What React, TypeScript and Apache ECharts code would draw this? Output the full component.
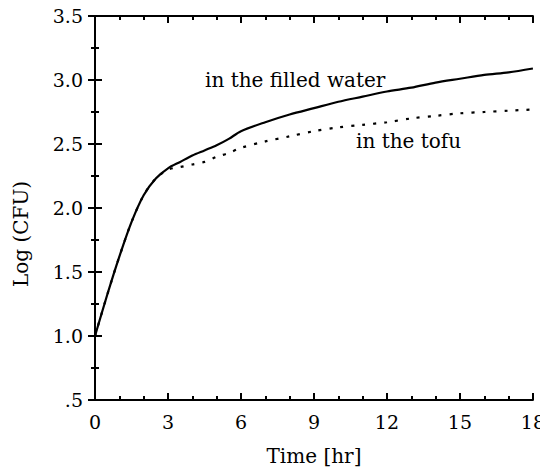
import React, { useEffect, useRef } from "react";
import * as echarts from "echarts";

const waterTimes = [0, 0.5, 1, 1.5, 2, 2.5, 3, 3.5, 4, 4.5, 5, 5.5, 6, 7, 8, 9, 10, 11, 12, 13, 14, 15, 16, 17, 18];
const waterLog = [1.0, 1.32, 1.62, 1.89, 2.1, 2.23, 2.31, 2.36, 2.41, 2.45, 2.49, 2.54, 2.6, 2.67, 2.73, 2.78, 2.83, 2.87, 2.91, 2.94, 2.98, 3.01, 3.04, 3.06, 3.09];

const tofuTimes = [0, 0.5, 1, 1.5, 2, 2.5, 3, 3.5, 4, 4.5, 5, 5.5, 6, 7, 8, 9, 10, 11, 12, 13, 14, 15, 16, 17, 18];
const tofuLog = [1.0, 1.32, 1.62, 1.89, 2.1, 2.23, 2.3, 2.32, 2.34, 2.36, 2.4, 2.43, 2.47, 2.52, 2.56, 2.6, 2.63, 2.65, 2.67, 2.7, 2.72, 2.74, 2.75, 2.76, 2.77];

const xLabel = "Time [hr]";
const yLabel = "Log (CFU)";
const waterName = "in the filled water";
const tofuName = "in the tofu";

const FONT = "'DejaVu Serif', 'Liberation Serif', serif";

export default function App() {
  const ref = useRef<HTMLDivElement>(null);
  useEffect(() => {
    if (!ref.current) return;
    const chart = echarts.init(ref.current, undefined, { renderer: "svg" });
    const axisLine = { show: true, lineStyle: { color: "#000", width: 2 } };
    const tick = { show: true, inside: true, length: 7, lineStyle: { color: "#000", width: 2 } };
    const minorTick = { show: true, splitNumber: 3, length: 4, lineStyle: { color: "#000", width: 2 } };
    const yMinor = { show: true, splitNumber: 2, length: 4, lineStyle: { color: "#000", width: 2 } };
    chart.setOption({
      animation: false,
      backgroundColor: "#fff",
      grid: { left: 95, right: 13, top: 16, bottom: 75, containLabel: false },
      xAxis: [
        {
          type: "value", min: 0, max: 18, interval: 3, position: "bottom",
          axisLine, axisTick: tick, minorTick,
          splitLine: { show: false },
          axisLabel: { color: "#000", fontFamily: FONT, fontSize: 19, margin: 12 },
          name: xLabel, nameLocation: "middle", nameGap: 46,
          nameTextStyle: { color: "#000", fontFamily: FONT, fontSize: 20 },
        },
        {
          type: "value", min: 0, max: 18, interval: 3, position: "top",
          axisLine, axisTick: tick, minorTick,
          splitLine: { show: false }, axisLabel: { show: false },
        },
      ],
      yAxis: [
        {
          type: "value", min: 0.5, max: 3.5, interval: 0.5, position: "left",
          axisLine, axisTick: tick, minorTick: yMinor,
          splitLine: { show: false },
          axisLabel: {
            color: "#000", fontFamily: FONT, fontSize: 19, margin: 12,
            formatter: (v: number) => (Math.abs(v - 0.5) < 1e-9 ? ".5" : v.toFixed(1)),
          },
        },
        {
          type: "value", min: 0.5, max: 3.5, interval: 0.5, position: "right",
          axisLine, axisTick: tick, minorTick: yMinor,
          splitLine: { show: false }, axisLabel: { show: false },
        },
      ],
      series: [
        {
          name: waterName, type: "line", smooth: 0.3, symbol: "none",
          data: waterTimes.map((t, i) => [t, waterLog[i]]),
          lineStyle: { color: "#000", width: 2.2 },
          z: 3,
        },
        {
          name: tofuName, type: "line", smooth: 0.3, symbol: "none",
          data: tofuTimes.map((t, i) => [t, tofuLog[i]]),
          lineStyle: { color: "#000", width: 2.2, type: [3, 8] },
          z: 2,
        },
      ],
      graphic: [
        {
          type: "text", x: 21, y: 234, rotation: Math.PI / 2,
          style: {
            text: yLabel, fill: "#000", font: `20px ${FONT}`,
            align: "center", verticalAlign: "middle",
          },
        },
        {
          type: "text", left: 205, top: 70,
          style: { text: waterName, fill: "#000", font: `20px ${FONT}` },
        },
        {
          type: "text", left: 356, top: 131,
          style: { text: tofuName, fill: "#000", font: `20px ${FONT}` },
        },
      ],
    });
    return () => chart.dispose();
  }, []);
  return <div ref={ref} style={{ width: 548, height: 475, margin: -8 }} />;
}
